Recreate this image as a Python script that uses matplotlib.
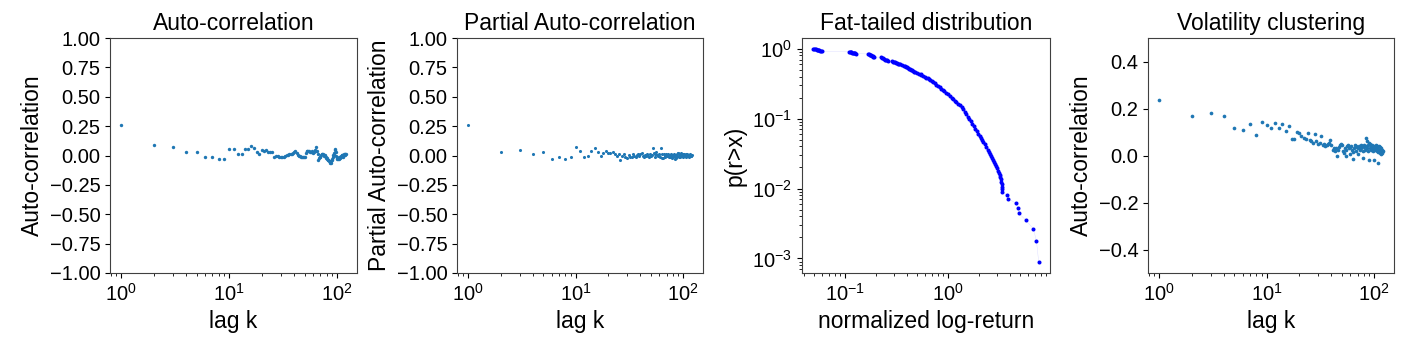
import numpy as np
import matplotlib
matplotlib.use("Agg")
import matplotlib.pyplot as plt

plt.rcParams['font.family'] = ['Liberation Sans', 'DejaVu Sans']

# lags 1..120
lags = np.arange(1, 121)

acf = [0.26, 0.088, 0.071, 0.034, 0.034, -0.017, -0.009, -0.026, -0.026, 0.054,
       0.054, 0.017, 0.009, 0.054, 0.054, 0.080, 0.062, 0.026, 0.017, 0.045,
       0.038, 0.045, 0.034, 0.030, 0.026, -0.017, 0.000, -0.005, -0.009, -0.012,
       -0.017, -0.010, 0.000, 0.005, 0.008, 0.009, 0.012, 0.015, 0.020, 0.030,
       0.037, 0.020, 0.005, 0.000, -0.005, -0.009, -0.009, -0.012, -0.010, -0.009,
       0.020, 0.040, 0.035, 0.037, 0.037, 0.030, 0.034, 0.037, 0.030, 0.025,
       0.026, 0.050, 0.071, 0.040, 0.040, 0.010, -0.037, -0.020, -0.010, -0.009,
       0.005, 0.015, 0.017, 0.010, 0.005, 0.000, 0.005, -0.010, -0.020, -0.025,
       -0.030, -0.035, -0.040, -0.045, -0.050, -0.060, -0.065, -0.050, -0.035, -0.026,
       -0.010, 0.005, 0.005, 0.020, 0.045, 0.054, 0.030, 0.000, -0.020, -0.030,
       -0.030, -0.020, -0.026, -0.015, -0.010, -0.020, -0.009, -0.010, 0.000, 0.005,
       0.005, -0.015, 0.000, 0.005, 0.005, 0.010, 0.008, 0.012, 0.010, 0.012]

pacf = [0.26, 0.026, 0.045, 0.009, 0.026, -0.034, -0.009, -0.026, -0.009, 0.071,
        0.037, -0.009, 0.000, 0.037, 0.060, 0.026, 0.000, 0.020, 0.040, 0.020,
        0.018, 0.030, 0.010, 0.000, 0.015, -0.037, -0.005, 0.010, -0.010, -0.020,
        0.005, -0.015, -0.010, 0.010, 0.000, -0.010, 0.005, 0.015, -0.005, 0.010,
        0.020, 0.000, -0.010, 0.005, -0.005, 0.010, 0.000, -0.015, 0.010, -0.005,
        0.005, 0.060, 0.020, -0.010, 0.010, 0.030, 0.005, -0.005, 0.015, 0.000,
        -0.010, 0.060, 0.010, -0.020, -0.025, 0.010, 0.000, -0.010, 0.015, 0.005,
        -0.005, 0.010, 0.000, -0.015, 0.005, -0.010, 0.010, -0.020, 0.000, 0.005,
        -0.010, 0.010, -0.005, -0.030, 0.000, -0.025, 0.010, -0.005, 0.020, 0.025,
        0.015, -0.010, 0.005, -0.015, 0.010, 0.020, -0.005, 0.000, 0.015, -0.010,
        0.005, 0.010, -0.005, 0.000, 0.010, -0.010, 0.005, 0.000, 0.010, -0.005,
        0.005, 0.000, -0.010, 0.005, 0.010, 0.000, -0.005, 0.005, 0.000, 0.005]

vol_acf = [0.235, 0.168, 0.179, 0.168, 0.118, 0.110, 0.132, 0.089, 0.141, 0.128,
           0.115, 0.137, 0.118, 0.132, 0.106, 0.125, 0.070, 0.070, 0.100, 0.095,
           0.085, 0.075, 0.070, 0.095, 0.065, 0.060, 0.055, 0.090, 0.060, 0.050,
           0.055, 0.085, 0.045, 0.050, 0.040, 0.045, 0.050, 0.055, 0.065, 0.045,
           0.025, 0.030, 0.020, 0.030, 0.000, 0.025, 0.035, 0.045, 0.050, 0.045,
           0.020, 0.010, 0.030, 0.025, 0.000, 0.040, 0.045, 0.030, 0.005, 0.035,
           0.040, 0.025, 0.015, -0.015, 0.030, 0.045, 0.040, 0.020, 0.035, 0.030,
           0.005, 0.040, 0.025, 0.035, 0.045, 0.030, 0.040, 0.020, -0.010, 0.035,
           0.045, 0.025, 0.040, 0.075, 0.060, 0.030, 0.020, 0.045, 0.055, -0.020,
           0.030, 0.050, 0.040, 0.025, 0.035, 0.045, 0.030, 0.020, -0.018, 0.040,
           0.030, 0.025, 0.045, 0.035, 0.020, 0.040, 0.030, 0.015, -0.030, 0.025,
           0.040, 0.010, 0.035, 0.020, 0.005, 0.030, 0.015, 0.025, 0.010, 0.020]

# survival function of normalized log-returns
ret_x = [0.049, 0.050, 0.051, 0.052, 0.053, 0.054, 0.055, 0.056, 0.057, 0.058, 0.059,
         0.109, 0.111, 0.113, 0.115, 0.117, 0.119, 0.121, 0.123, 0.125, 0.127,
         0.167, 0.170, 0.173, 0.176, 0.179, 0.182, 0.185, 0.188, 0.191,
         0.225, 0.230, 0.235, 0.240, 0.245, 0.250, 0.255, 0.260,
         0.285, 0.292, 0.299, 0.306, 0.313, 0.320, 0.328, 0.336, 0.344,
         0.36, 0.37, 0.38, 0.39, 0.40, 0.41, 0.42, 0.43, 0.44, 0.45, 0.46, 0.47,
         0.48, 0.50, 0.52, 0.54, 0.55, 0.57, 0.59, 0.61, 0.63, 0.65, 0.67, 0.69,
         0.71, 0.74, 0.77, 0.80, 0.83, 0.86, 0.89, 0.92, 0.96, 1.00, 1.04, 1.08,
         1.12, 1.16, 1.20, 1.25, 1.30, 1.35, 1.40, 1.45, 1.50, 1.55, 1.60, 1.66,
         1.72, 1.78, 1.84, 1.90, 1.96, 2.02, 2.08, 2.14, 2.20, 2.27, 2.34, 2.41,
         2.48, 2.55, 2.62, 2.68, 2.74, 2.80, 2.86, 2.92, 2.98, 3.04, 3.10, 3.16,
         3.20, 3.24, 3.27, 3.30, 3.32, 3.34, 3.35,
         3.75, 3.84, 4.52, 4.73, 4.87, 5.70, 6.72, 7.20, 7.57]
ret_p = [1.0, 0.993, 0.985, 0.977, 0.970, 0.962, 0.955, 0.947, 0.94, 0.93, 0.92,
         0.91, 0.90, 0.895, 0.89, 0.88, 0.875, 0.87, 0.86, 0.855, 0.85,
         0.84, 0.83, 0.82, 0.81, 0.80, 0.79, 0.78, 0.77, 0.76,
         0.75, 0.74, 0.73, 0.72, 0.70, 0.69, 0.68, 0.67,
         0.665, 0.655, 0.645, 0.635, 0.625, 0.615, 0.61, 0.60, 0.595,
         0.58, 0.57, 0.56, 0.55, 0.54, 0.53, 0.52, 0.51, 0.50, 0.49, 0.48, 0.47,
         0.465, 0.45, 0.44, 0.43, 0.42, 0.41, 0.40, 0.385, 0.375, 0.365, 0.355, 0.345,
         0.335, 0.32, 0.305, 0.29, 0.28, 0.265, 0.255, 0.245, 0.235, 0.225, 0.212, 0.200,
         0.190, 0.180, 0.172, 0.162, 0.155, 0.147, 0.135, 0.125, 0.115, 0.107, 0.100, 0.092,
         0.085, 0.078, 0.072, 0.066, 0.061, 0.057, 0.053, 0.049, 0.046, 0.043, 0.039, 0.036,
         0.033, 0.031, 0.029, 0.027, 0.0255, 0.024, 0.0225, 0.021, 0.0195, 0.018, 0.0168, 0.0158,
         0.0148, 0.0135, 0.0125, 0.0115, 0.0106, 0.0098, 0.0090,
         0.0080, 0.0071, 0.0062, 0.0053, 0.0044, 0.0035, 0.00265, 0.00177, 0.00088]

corr_ticks = [-1.0, -0.75, -0.5, -0.25, 0.0, 0.25, 0.5, 0.75, 1.0]

FS_LAB = 16.5
FS_TICK = 14.5

fig = plt.figure(figsize=(14.13, 3.51), dpi=100)
W, H = 1413., 351.
def box(l, r, t=38, b=273):
    return [l/W, (H-b)/H, (r-l)/W, (b-t)/H]

ax1 = fig.add_axes(box(110, 357))
ax2 = fig.add_axes(box(457, 703))
ax3 = fig.add_axes(box(802, 1050))
ax4 = fig.add_axes(box(1148, 1394))

ax1.scatter(lags, acf, s=6, color='#1f77b4', linewidths=0)
ax1.set_xscale('log')
ax1.set_ylim(-1, 1)
ax1.set_title('Auto-correlation', fontsize=FS_LAB)
ax1.set_ylabel('Auto-correlation', fontsize=FS_LAB)
ax1.set_xlabel('lag k', fontsize=FS_LAB)

ax2.scatter(lags, pacf, s=5, color='#1f77b4', linewidths=0)
ax2.set_xscale('log')
ax2.set_ylim(-1, 1)
ax2.set_title('Partial Auto-correlation', fontsize=FS_LAB)
ax2.set_ylabel('Partial Auto-correlation', fontsize=FS_LAB)
ax2.set_xlabel('lag k', fontsize=FS_LAB)

for ax in (ax1, ax2):
    ax.set_yticks(corr_ticks)
    ax.set_yticklabels(['%.2f' % t if t >= 0 else '\u2212%.2f' % -t for t in corr_ticks])

ax3.loglog(ret_x, ret_p, color='b', lw=0.3, alpha=0.15)
ax3.loglog(ret_x, ret_p, 'o', color='b', markersize=2.9, markeredgewidth=0)
ax3.set_title('Fat-tailed distribution', fontsize=FS_LAB)
ax3.set_ylabel('p(r>x)', fontsize=FS_LAB)
ax3.set_xlabel('normalized log-return', fontsize=FS_LAB)

ax4.scatter(lags, vol_acf, s=7, color='#1f77b4', linewidths=0)
ax4.set_xscale('log')
ax4.set_ylim(-0.5, 0.5)
ax4.set_title('Volatility clustering', fontsize=FS_LAB)
ax4.set_ylabel('Auto-correlation', fontsize=FS_LAB)
ax4.set_xlabel('lag k', fontsize=FS_LAB)

for ax in (ax1, ax2, ax3, ax4):
    ax.tick_params(labelsize=FS_TICK)
    for sp in ax.spines.values():
        sp.set_color('0.25')

fig.savefig('out.png', dpi=100)
